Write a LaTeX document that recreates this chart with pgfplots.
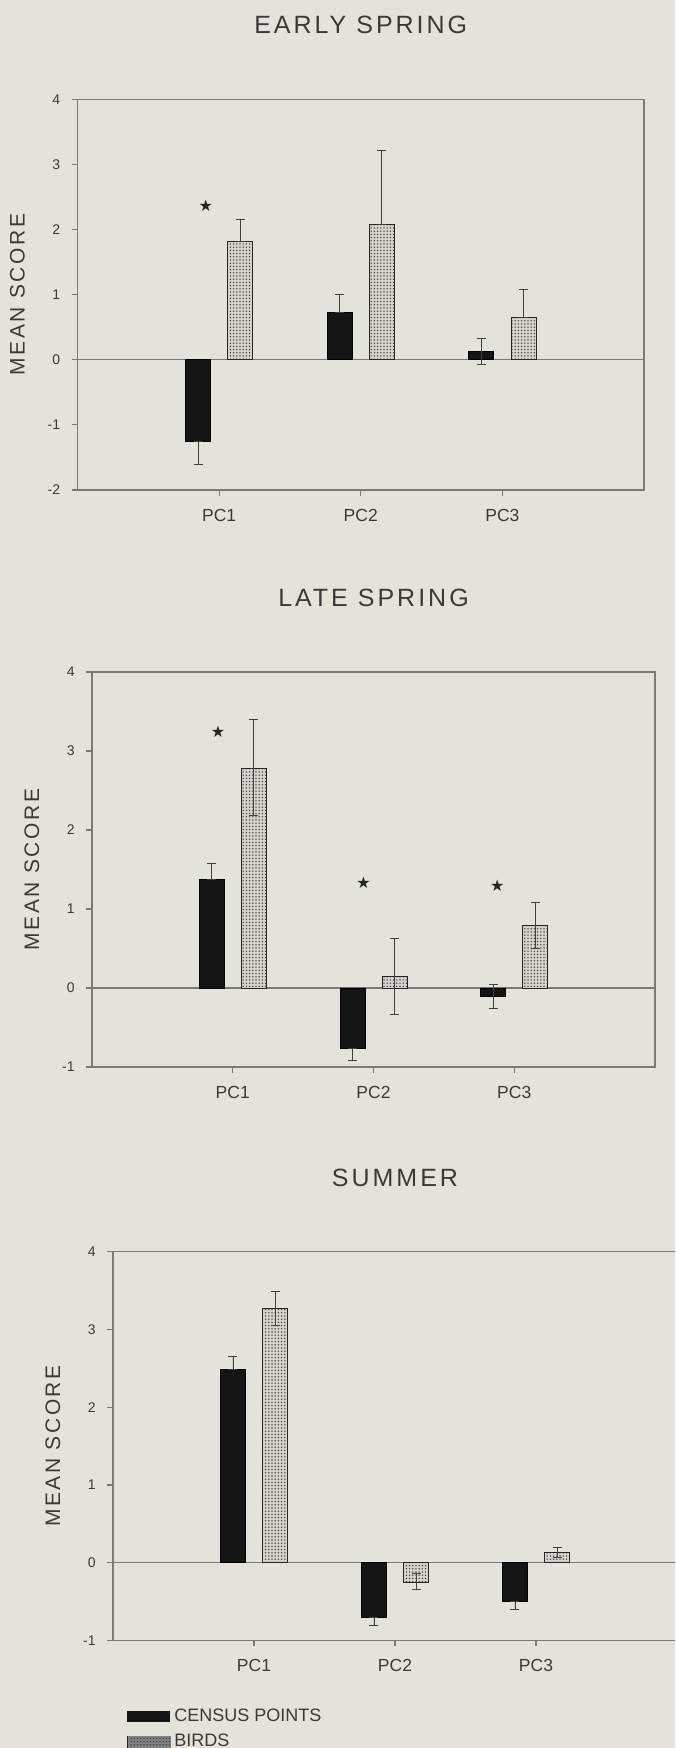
\documentclass[border=0pt]{standalone}
\usepackage{fontspec}
\setmainfont{Liberation Sans}
\newfontfamily\spacedfont[LetterSpace=12]{Liberation Sans}
\newfontfamily\symfont{DejaVu Sans}
\usepackage{pgfplots}
\pgfplotsset{compat=1.18}
\usetikzlibrary{patterns.meta}
\definecolor{bg}{HTML}{E4E2DB}
\definecolor{axc}{HTML}{7A7A7A}
\definecolor{txt}{HTML}{3A3A3A}
\definecolor{birdfill}{HTML}{D4D2CC}

\pgfplotsset{
  panel/.style={
    scale only axis, clip=false,
    xmin=0, xmax=4, xtick={1,2,3}, xticklabels={PC1,PC2,PC3},
    axis line style={axc, line width=0.6pt},
    tick style={axc, line width=0.6pt},
    tick align=outside, major tick length=3pt,
    xtick pos=bottom, ytick pos=left,
    /pgf/number format/assume math mode=true,
    yticklabel style={font=\fontsize{7}{8}\selectfont, text=txt, anchor=east, inner sep=0pt, xshift=-5.5pt},
    xticklabel style={font=\fontsize{8.75}{10}\selectfont, text=txt, anchor=center, yshift=-9.5pt},
    every axis title/.style={at={(0.5,1)}, anchor=center, yshift=37pt, font=\spacedfont\fontsize{12.5}{14}\selectfont, text=txt},
    every axis y label/.style={at={(axis description cs:0,0.5)}, xshift=-30pt, rotate=90, anchor=center, font=\spacedfont\fontsize{10.5}{12}\selectfont, text=txt},
    ylabel={MEAN SCORE},
  },
  errs/.style={
    error bars/y dir=both, error bars/y explicit,
    error bars/error bar style={black!75, line width=0.4pt},
    error bars/error mark options={rotate=90, mark size=2.25pt, black!75, line width=0.4pt},
  },
  cen/.style={ybar, bar width=12.5pt, bar shift=0pt, fill=black!92, draw=black, line width=0.4pt, errs,
    legend image code/.code={\fill[black!92] (0pt,-2.6pt) rectangle (21pt,2.6pt);}},
  bird/.style={ybar, bar width=12.5pt, bar shift=0pt, fill=birdfill, draw=black!85, line width=0.4pt,
    postaction={pattern={Dots[distance=1.6pt, radius=0.38pt]}, pattern color=black!75}, errs,
    legend image code/.code={\fill[birdfill] (0pt,-2.6pt) rectangle (21pt,2.6pt);
      \fill[pattern={Dots[distance=1.6pt, radius=0.28pt]}, pattern color=black!50] (0pt,-2.6pt) rectangle (21pt,2.6pt);
      \draw[black!50, line width=0.3pt] (0pt,-2.6pt) rectangle (21pt,2.6pt);}},
  stars/.style={only marks, mark=none, point meta=y,
    nodes near coords={\symfont\fontsize{8}{8}\selectfont\textcolor{black!85}{★}},
    every node near coord/.append style={anchor=center, inner sep=0pt}},
}

\begin{document}
\begin{tikzpicture}
\useasboundingbox (0,0) rectangle (337.5pt,874pt);
\clip (0,0) rectangle (337.5pt,874pt);
\fill[bg] (0,0) rectangle (337.5pt,874pt);

% EARLY SPRING
\begin{axis}[panel, at={(38.75pt,629pt)}, anchor=south west,
  width=283.25pt, height=195.35pt, ymin=-2, ymax=4, ytick={-2,-1,0,1,2,3,4},
  title={EARLY SPRING}]
\draw[axc, line width=0.6pt] (axis cs:0,0) -- (axis cs:4,0);
\addplot[cen] coordinates {(0.851,-1.26) += (0,0) -= (0,0.35)
  (1.851,0.72) += (0,0.29) -= (0,0)
  (2.851,0.13) += (0,0.20) -= (0,0.20)};
\addplot[bird] coordinates {(1.149,1.82) += (0,0.33) -= (0,0)
  (2.149,2.08) += (0,1.14) -= (0,0)
  (3.149,0.65) += (0,0.43) -= (0,0)};
\addplot[stars] coordinates {(0.905,2.36)};
\end{axis}

% LATE SPRING
\begin{axis}[panel, at={(46pt,340.5pt)}, anchor=south west,
  width=281.5pt, height=197.5pt, ymin=-1, ymax=4, ytick={-1,0,1,2,3,4},
  title={LATE SPRING}]
\draw[axc, line width=0.6pt] (axis cs:0,0) -- (axis cs:4,0);
\addplot[cen] coordinates {(0.851,1.37) += (0,0.21) -= (0,0)
  (1.851,-0.77) += (0,0) -= (0,0.15)
  (2.851,-0.11) += (0,0.15) -= (0,0.15)};
\addplot[bird] coordinates {(1.149,2.78) += (0,0.62) -= (0,0.60)
  (2.149,0.15) += (0,0.48) -= (0,0.49)
  (3.149,0.79) += (0,0.29) -= (0,0.29)};
\addplot[stars] coordinates {(0.895,3.24) (1.93,1.33) (2.88,1.30)};
\end{axis}

% SUMMER
\begin{axis}[panel, at={(56.5pt,53.85pt)}, anchor=south west,
  width=282pt, height=194.2pt, ymin=-1, ymax=4, ytick={-1,0,1,2,3,4},
  title={SUMMER},
  legend style={at={(axis description cs:0.025,-0.165)}, anchor=north west, draw=none, fill=none,
    font=\fontsize{9}{10}\selectfont, text=txt, row sep=0.8pt, inner sep=0pt, cells={anchor=west}},
  legend cell align=left]
\draw[axc, line width=0.6pt] (axis cs:0,0) -- (axis cs:4,0);
\addplot[cen] coordinates {(0.851,2.49) += (0,0.16) -= (0,0)
  (1.851,-0.70) += (0,0) -= (0,0.11)
  (2.851,-0.50) += (0,0) -= (0,0.10)};
\addlegendentry{CENSUS POINTS}
\addplot[bird] coordinates {(1.149,3.27) += (0,0.22) -= (0,0.22)
  (2.149,-0.25) += (0,0.11) -= (0,0.10)
  (3.149,0.13) += (0,0.07) -= (0,0.06)};
\addlegendentry{BIRDS}
\end{axis}
\end{tikzpicture}
\end{document}
